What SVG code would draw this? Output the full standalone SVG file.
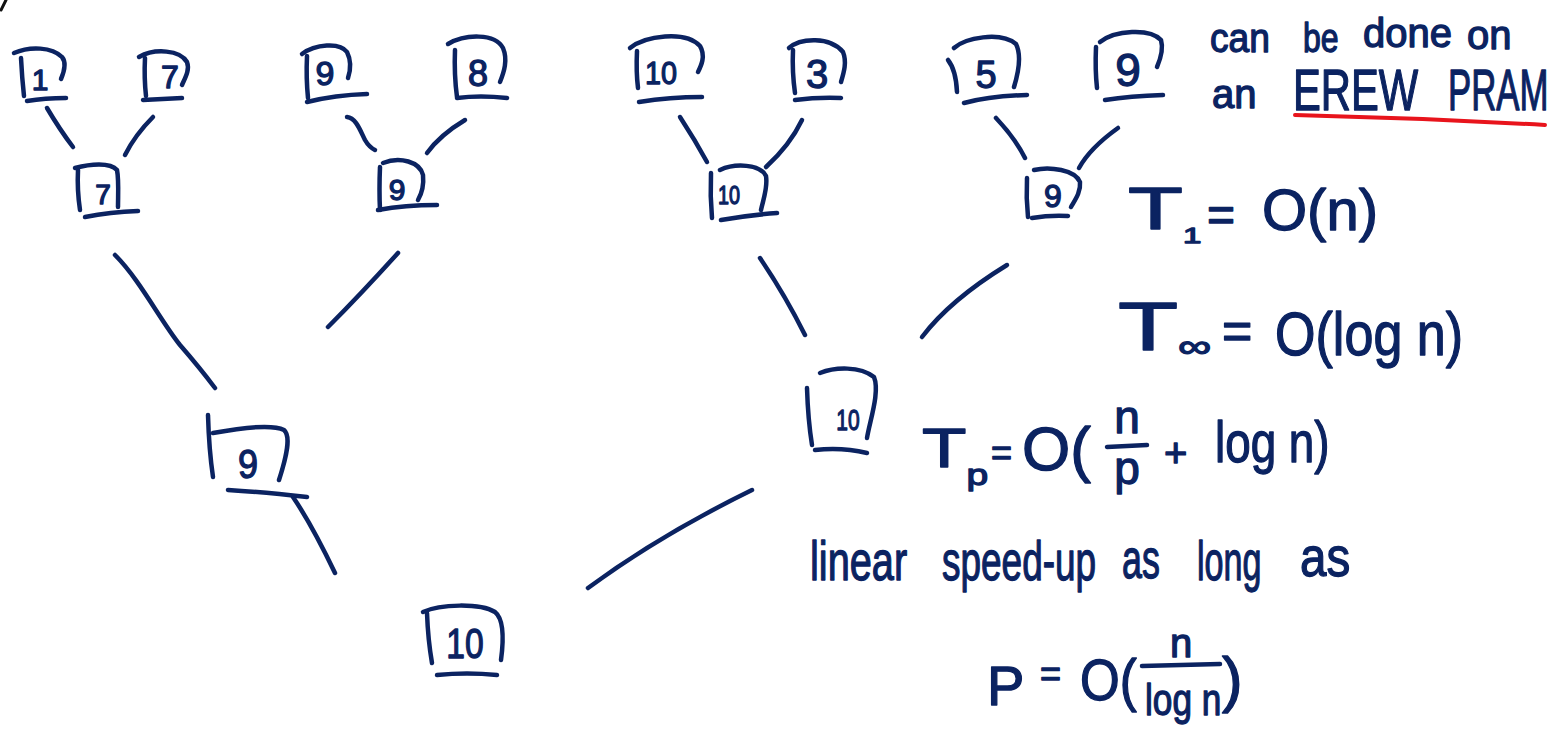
<svg xmlns="http://www.w3.org/2000/svg" width="1566" height="743" viewBox="0 0 1566 743">
  <style>
    .ink { fill: none; stroke: #0b2361; stroke-width: 4.5; stroke-linecap: round; stroke-linejoin: round; }
    .red { fill: none; stroke: #e8141c; stroke-width: 4; stroke-linecap: round; }
    .hw { font-family: "Liberation Sans", "DejaVu Sans", sans-serif; fill: #0b2361; stroke: #0b2361; stroke-width: 1.3; stroke-linejoin: round; }
    .num { font-family: "Liberation Sans", "DejaVu Sans", sans-serif; fill: #0b2361; stroke: #0b2361; stroke-width: 1.3; stroke-linejoin: round; text-anchor: middle; }
  </style>

  <rect width="1566" height="743" fill="#ffffff"/>

  <!-- stray pen mark in the corner -->
  <path d="M1,10 L6,0" fill="none" stroke="#111" stroke-width="3" stroke-linecap="round"/>

  <!-- tree edges -->
  <g id="connectors" class="ink">
    <path d="M47,108 Q60,130 73,147"/>
    <path d="M153,117 Q135,135 125,155"/>
    <path d="M347,117 C356,118 360,130 365,140 Q369,147 375,150"/>
    <path d="M465,120 Q440,135 427,153"/>
    <path d="M680,117 Q695,140 707,162"/>
    <path d="M802,120 Q790,145 766,167"/>
    <path d="M996,118 Q1015,138 1025,158"/>
    <path d="M1118,128 Q1090,148 1079,168"/>
    <path d="M115,255 C140,280 160,320 180,345 Q200,368 215,388"/>
    <path d="M398,253 Q360,295 328,327"/>
    <path d="M760,258 Q785,295 805,335"/>
    <path d="M1007,265 Q950,300 922,337"/>
    <path d="M293,497 Q312,525 335,573"/>
    <path d="M752,490 Q660,535 588,588"/>
  </g>

  <!-- leaves -->
  <g id="leaf-1" class="ink">
    <path d="M21,58 Q22,78 24,96"/>
    <path d="M14,53 C30,46 52,47 62,57 C67,63 64,72 61,79"/>
    <path d="M27,101 Q45,98 66,98"/>
    <text class="num" x="40" y="90" font-size="30">1</text>
  </g>
  <g id="leaf-7" class="ink">
    <path d="M145,58 Q144,78 146,96"/>
    <path d="M139,57 C155,48 180,50 187,62 C190,70 185,78 182,85"/>
    <path d="M143,100 L182,98"/>
    <text class="num" x="170" y="88" font-size="32">7</text>
  </g>
  <g id="leaf-9a" class="ink">
    <path d="M307,56 Q306,78 308,98"/>
    <path d="M302,54 C315,44 340,42 347,52 C352,62 350,72 348,78"/>
    <path d="M307,102 Q335,95 367,94"/>
    <text class="num" x="325" y="85" font-size="34">9</text>
  </g>
  <g id="leaf-8" class="ink">
    <path d="M455,50 Q454,75 457,97"/>
    <path d="M448,44 C465,34 495,33 503,48 C508,60 504,72 500,82"/>
    <path d="M457,98 Q480,95 507,98"/>
    <text class="num" x="478" y="86" font-size="36">8</text>
  </g>
  <g id="leaf-10" class="ink">
    <path d="M637,51 Q636,72 638,88"/>
    <path d="M630,48 C645,36 685,30 700,46 C706,56 701,66 698,72"/>
    <path d="M639,102 Q670,97 702,97"/>
    <text class="num" transform="translate(661,84) scale(0.9,1)" font-size="32">10</text>
  </g>
  <g id="leaf-3" class="ink">
    <path d="M793,50 Q792,72 795,93"/>
    <path d="M789,48 C800,38 830,36 843,52 C847,62 844,72 841,82"/>
    <path d="M795,100 Q818,97 841,98"/>
    <text class="num" x="817" y="88" font-size="40">3</text>
  </g>
  <g id="leaf-5" class="ink">
    <path d="M948,60 Q956,70 957,92"/>
    <path d="M954,48 C965,38 1000,31 1016,44 C1022,56 1018,74 1014,87"/>
    <path d="M964,103 Q990,96 1027,95"/>
    <text class="num" x="986" y="88" font-size="38">5</text>
  </g>
  <g id="leaf-9b" class="ink">
    <path d="M1096,47 Q1095,70 1097,88"/>
    <path d="M1100,42 C1115,30 1150,28 1161,40 C1164,50 1160,60 1157,67"/>
    <path d="M1105,100 Q1130,96 1163,95"/>
    <text class="num" x="1128" y="86" font-size="46">9</text>
  </g>

  <!-- second level -->
  <g id="node-7" class="ink">
    <path d="M78,170 Q77,190 80,210"/>
    <path d="M75,168 C90,164 110,162 117,170 C119,180 118,195 118,207"/>
    <path d="M85,217 Q110,212 138,211"/>
    <text class="num" x="103" y="204" font-size="28">7</text>
  </g>
  <g id="node-9a" class="ink">
    <path d="M380,167 Q379,190 380,210"/>
    <path d="M383,163 C400,156 420,162 423,175 C424,185 422,193 418,200"/>
    <path d="M378,210 Q405,205 437,205"/>
    <text class="num" x="397" y="200" font-size="30">9</text>
  </g>
  <g id="node-10a" class="ink">
    <path d="M711,173 Q710,196 712,218"/>
    <path d="M720,170 C735,163 760,164 766,176 C768,188 763,200 761,210"/>
    <path d="M721,220 Q750,215 777,213"/>
    <text class="num" transform="translate(729,204) scale(0.76,1)" font-size="26">10</text>
  </g>
  <g id="node-9b" class="ink">
    <path d="M1027,178 Q1026,198 1028,217"/>
    <path d="M1034,170 C1050,166 1075,170 1080,182 C1081,192 1075,200 1071,207"/>
    <path d="M1032,218 Q1050,215 1068,216"/>
    <text class="num" x="1053" y="207" font-size="32">9</text>
  </g>

  <!-- third level -->
  <g id="node-9c" class="ink">
    <path d="M208,415 Q209,450 213,477"/>
    <path d="M213,433 C240,428 272,424 284,430 C291,436 287,455 279,480"/>
    <path d="M228,490 Q262,492 307,497"/>
    <text class="num" transform="translate(248,478) scale(0.9,1)" font-size="40">9</text>
  </g>
  <g id="node-10b" class="ink">
    <path d="M807,388 Q808,420 812,445"/>
    <path d="M820,373 C835,367 860,366 874,377 C880,392 870,420 867,438"/>
    <path d="M815,450 Q842,447 867,453"/>
    <text class="num" transform="translate(848,430) scale(0.7,1)" font-size="30">10</text>
  </g>

  <!-- root -->
  <g id="node-root" class="ink">
    <path d="M427,613 Q428,640 432,663"/>
    <path d="M423,612 C440,604 480,603 495,612 C505,620 503,645 501,660"/>
    <path d="M437,675 Q467,672 497,675"/>
    <text class="num" transform="translate(465,658) scale(0.8,1)" font-size="42">10</text>
  </g>

  <!-- notes on the right -->
  <g id="notes">
    <text class="hw" transform="translate(1210,52) scale(0.93,1)" font-size="40">can</text>
    <text class="hw" transform="translate(1303,52) scale(0.8,1)" font-size="40">be</text>
    <text class="hw" x="1363" y="47" font-size="40">done</text>
    <text class="hw" x="1467" y="49" font-size="40">on</text>
    <text class="hw" x="1212" y="108" font-size="40">an</text>
    <text class="hw" transform="translate(1293,110) scale(0.72,1)" font-size="58">EREW</text>
    <text class="hw" transform="translate(1448,110) scale(0.6,1)" font-size="58">PRAM</text>
    <path class="red" d="M1295,115 Q1420,118 1545,125"/>

    <!-- work -->
    <text class="hw" transform="translate(1128,229) scale(1.5,1)" font-size="60">T<tspan dy="14" font-size="22">1</tspan></text>
    <text class="hw" x="1207" y="231" font-size="48">=</text>
    <text class="hw" x="1262" y="230" font-size="58">O(n)</text>

    <!-- span -->
    <text class="hw" transform="translate(1118,350) scale(1.45,1)" font-size="68">T<tspan dy="7" font-size="32">∞</tspan></text>
    <text class="hw" x="1222" y="349" font-size="52">=</text>
    <text class="hw" transform="translate(1275,355) scale(0.84,1)" font-size="62">O(log n)</text>

    <!-- running time on p processors -->
    <text class="hw" transform="translate(922,467) scale(1.3,1)" font-size="56">T<tspan dy="18" font-size="30">p</tspan></text>
    <text class="hw" x="991" y="465" font-size="36">=</text>
    <text class="hw" x="1022" y="470" font-size="62">O(</text>
    <text class="num" x="1127" y="433" font-size="46">n</text>
    <path class="ink" d="M1107,447 L1147,445"/>
    <text class="num" x="1127" y="484" font-size="46">p</text>
    <text class="hw" x="1164" y="467" font-size="40">+</text>
    <text class="hw" transform="translate(1215,462) scale(0.79,1)" font-size="58">log n)</text>

    <!-- condition -->
    <text class="hw" transform="translate(810,580) scale(0.71,1)" font-size="56">linear</text>
    <text class="hw" transform="translate(942,580) scale(0.66,1)" font-size="56">speed-up</text>
    <text class="hw" transform="translate(1122,578) scale(0.64,1)" font-size="56">as</text>
    <text class="hw" transform="translate(1197,580) scale(0.61,1)" font-size="56">long</text>
    <text class="hw" transform="translate(1300,576) scale(0.85,1)" font-size="56">as</text>

    <text class="hw" x="987" y="705" font-size="56">P</text>
    <text class="hw" x="1040" y="686" font-size="36">=</text>
    <text class="hw" transform="translate(1080,700) scale(0.88,1)" font-size="58">O(</text>
    <text class="num" x="1181" y="657" font-size="40">n</text>
    <path class="ink" d="M1142,666 L1220,664"/>
    <text class="hw" transform="translate(1145,715) scale(0.8,1)" font-size="44">log n</text>
    <text class="hw" x="1222" y="700" font-size="62">)</text>
  </g>
</svg>
